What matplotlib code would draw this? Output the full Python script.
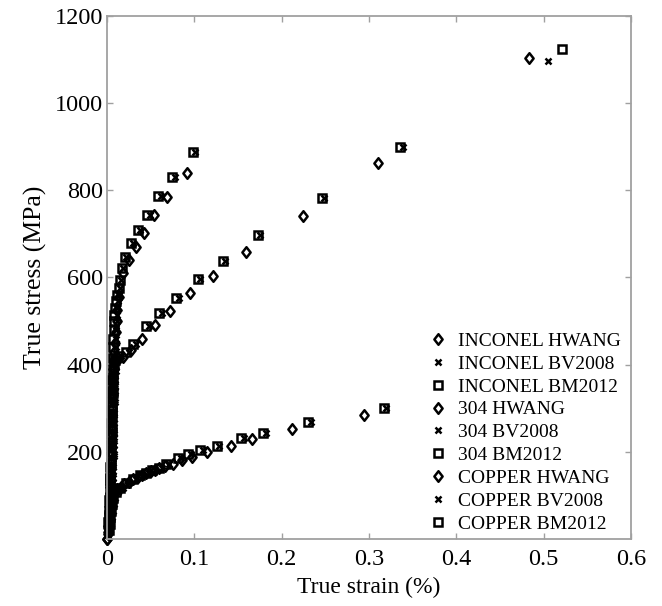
import matplotlib
matplotlib.use("Agg")
import matplotlib.pyplot as plt
from matplotlib.path import Path

plt.rcParams["font.family"] = ["Liberation Serif", "DejaVu Serif"]

# Inconel 718 (steepest hardening curve)
inconel_hwang_strain = [0.0, 0.001, 0.0015, 0.002, 0.0025, 0.003, 0.0035, 0.004, 0.004, 0.0045,
                        0.0045, 0.005, 0.005, 0.005, 0.0055, 0.0055, 0.0055, 0.006, 0.006, 0.006,
                        0.006, 0.0065, 0.0065, 0.0065, 0.007, 0.007, 0.0075, 0.008, 0.0085, 0.009,
                        0.010, 0.011, 0.012, 0.014, 0.0187, 0.0256, 0.0332, 0.0428, 0.054, 0.069,
                        0.0913]
inconel_hwang_stress = [0, 15, 30, 45, 60, 75, 90, 105, 120, 135,
                        150, 165, 180, 195, 210, 225, 240, 255, 270, 285,
                        300, 315, 330, 345, 360, 375, 390, 410, 430, 450,
                        475, 500, 525, 555, 610, 640, 669, 701, 743, 784,
                        839]
inconel_bm_strain = [0.0015, 0.002, 0.0025, 0.003, 0.0035, 0.004, 0.0045, 0.0045, 0.005, 0.005,
                     0.0055, 0.0055, 0.006, 0.006, 0.0065, 0.0065, 0.007, 0.007, 0.0075, 0.008,
                     0.0085, 0.0092, 0.0105, 0.0118, 0.0137, 0.0149, 0.0168, 0.0206, 0.0275, 0.0359,
                     0.046, 0.0588, 0.0745, 0.098]
inconel_bm_stress = [40, 65, 90, 115, 140, 165, 190, 215, 240, 265,
                     290, 315, 340, 365, 390, 415, 440, 460, 480, 500,
                     515, 530, 545, 560, 575, 594, 622, 648, 678, 709,
                     743, 788, 831, 889]
inconel_bv_strain = [0.004, 0.005, 0.0055, 0.006, 0.0065, 0.007, 0.0075, 0.0075, 0.008, 0.008,
                     0.0085, 0.0085, 0.009, 0.009, 0.0095, 0.0095, 0.010, 0.010, 0.0105, 0.011,
                     0.0115, 0.012, 0.0125, 0.0135, 0.0150, 0.0162, 0.0180, 0.0222, 0.0295, 0.0379,
                     0.049, 0.0618, 0.0775, 0.101]
inconel_bv_stress = inconel_bm_stress

# 304 stainless steel
ss304_hwang_strain = [0.0015, 0.002, 0.0025, 0.003, 0.0035, 0.004, 0.0045, 0.005, 0.005, 0.0055,
                      0.0055, 0.006, 0.006, 0.0065, 0.0065, 0.007, 0.0075, 0.0095, 0.0187, 0.028,
                      0.0397, 0.055, 0.072, 0.095, 0.121, 0.159, 0.225, 0.310, 0.483]
ss304_hwang_stress = [25, 50, 75, 100, 125, 150, 175, 200, 225, 250,
                      275, 300, 325, 350, 370, 390, 405, 412, 418, 434,
                      459, 491, 523, 564, 603, 659, 742, 862, 1104]
ss304_bm_strain = [0.002, 0.003, 0.004, 0.0045, 0.005, 0.0055, 0.006, 0.0065, 0.007, 0.0075,
                   0.0092, 0.013, 0.0218, 0.030, 0.045, 0.060, 0.079, 0.104, 0.1325, 0.1726,
                   0.246, 0.3356, 0.521]
ss304_bm_stress = [55, 95, 135, 175, 215, 255, 295, 335, 370, 400,
                   411, 420, 430, 447, 488, 519, 554, 596, 638, 698,
                   783, 900, 1124]
ss304_bv_strain = [0.005, 0.006, 0.007, 0.0075, 0.008, 0.0085, 0.009, 0.0095, 0.010, 0.0105,
                   0.0125, 0.016, 0.0248, 0.033, 0.048, 0.063, 0.082, 0.107, 0.1355, 0.1756,
                   0.249, 0.3386, 0.505]
ss304_bv_stress = [75, 115, 155, 195, 235, 275, 315, 350, 385, 405,
                   411, 420, 430, 447, 488, 519, 554, 596, 638, 698,
                   783, 900, 1097]

# Copper
copper_hwang_strain = [0.0, 0.001, 0.002, 0.0025, 0.003, 0.004, 0.005, 0.006, 0.009, 0.012,
                       0.016, 0.020, 0.025, 0.030, 0.035, 0.040, 0.045, 0.050, 0.055, 0.060,
                       0.067, 0.0752, 0.086, 0.097, 0.1149, 0.142, 0.1657, 0.2123, 0.294]
copper_hwang_stress = [0, 12, 25, 40, 55, 70, 85, 100, 108, 114,
                       120, 125, 131, 137, 142, 147, 151, 155, 159, 162,
                       167, 172, 181, 189, 200, 214, 229, 252, 285]
copper_bm_strain = [0.002, 0.003, 0.004, 0.005, 0.0055, 0.007, 0.010, 0.015, 0.022, 0.030,
                    0.038, 0.045, 0.052, 0.060, 0.068, 0.0817, 0.093, 0.1065, 0.1257, 0.154,
                    0.179, 0.2306, 0.317]
copper_bm_stress = [20, 35, 50, 65, 80, 95, 108, 118, 128, 138,
                    146, 152, 158, 164, 172, 185, 194, 204, 214, 231,
                    244, 268, 300]
copper_bv_strain = [0.004, 0.005, 0.006, 0.007, 0.0075, 0.009, 0.013, 0.018, 0.025, 0.033,
                    0.041, 0.048, 0.055, 0.063, 0.071, 0.0847, 0.096, 0.1095, 0.1287, 0.157,
                    0.182, 0.2336, 0.320]
copper_bv_stress = copper_bm_stress

# diamond a little narrower than it is tall
diamond = Path([(0, 1), (0.78, 0), (0, -1), (-0.78, 0), (0, 1)],
               [Path.MOVETO, Path.LINETO, Path.LINETO, Path.LINETO, Path.CLOSEPOLY])

series = [
    ("INCONEL HWANG", inconel_hwang_strain, inconel_hwang_stress, "d"),
    ("INCONEL BV2008", inconel_bv_strain, inconel_bv_stress, "x"),
    ("INCONEL BM2012", inconel_bm_strain, inconel_bm_stress, "s"),
    ("304 HWANG", ss304_hwang_strain, ss304_hwang_stress, "d"),
    ("304 BV2008", ss304_bv_strain, ss304_bv_stress, "x"),
    ("304 BM2012", ss304_bm_strain, ss304_bm_stress, "s"),
    ("COPPER HWANG", copper_hwang_strain, copper_hwang_stress, "d"),
    ("COPPER BV2008", copper_bv_strain, copper_bv_stress, "x"),
    ("COPPER BM2012", copper_bm_strain, copper_bm_stress, "s"),
]
marker_shapes = {"d": diamond, "x": "x", "s": "s"}
marker_sizes = {"d": 7.6, "x": 4.6, "s": 5.4}

fig = plt.figure(figsize=(6.62, 6.06), dpi=100)
ax = fig.add_axes([0.1616, 0.1106, 0.7915, 0.863])

for label, strain, stress, marker in series:
    ax.plot(strain, stress, linestyle="none", marker=marker_shapes[marker],
            markersize=marker_sizes[marker], markerfacecolor="none",
            markeredgecolor="black", markeredgewidth=1.8,
            label=label, clip_on=False)

ax.set_xlim(0, 0.6)
ax.set_ylim(0, 1200)
ax.set_xticks([0, 0.1, 0.2, 0.3, 0.4, 0.5, 0.6])
ax.set_xticklabels(["0", "0.1", "0.2", "0.3", "0.4", "0.5", "0.6"])
ax.set_yticks([200, 400, 600, 800, 1000, 1200])

for spine in ax.spines.values():
    spine.set_color("#a0a0a0")
    spine.set_linewidth(1.3)
ax.tick_params(direction="in", length=4, width=1, color="#a0a0a0",
               top=True, right=True, labelsize=17.5, labelcolor="black")
ax.tick_params(axis="x", pad=7)
ax.tick_params(axis="y", pad=3)

ax.set_xlabel("True strain (%)", fontsize=17, labelpad=5)
ax.set_ylabel("True stress (MPa)", fontsize=18.5, labelpad=5)

ax.legend(loc="lower right", bbox_to_anchor=(0.98, 0.012), frameon=False,
          fontsize=14, numpoints=1, handlelength=0.8, handletextpad=0.6,
          labelspacing=0.27, borderpad=0, borderaxespad=0)

fig.savefig("out.png", dpi=100)
